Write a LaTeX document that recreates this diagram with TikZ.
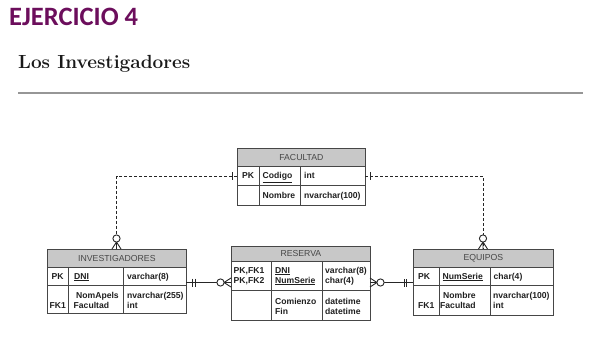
\documentclass[tikz,border=0pt]{standalone}
\usepackage{fontspec}
\newfontfamily\arialf{Liberation Sans}
\newfontfamily\calibf{Carlito}
\definecolor{titlec}{RGB}{108,14,92}
\definecolor{boxc}{RGB}{70,70,70}
\definecolor{hdrc}{RGB}{200,200,200}
\definecolor{rulec}{RGB}{150,150,150}
\begin{document}
\begin{tikzpicture}[x=1pt,y=-1pt,
  hdr/.style={draw=boxc, fill=hdrc, line width=0.8pt, anchor=north west, inner sep=0pt,
    font=\arialf\fontsize{8.7}{10}\selectfont, text=black!72},
  body/.style={draw=boxc, line width=0.8pt, anchor=north west, inner sep=0pt},
  div/.style={draw=boxc, line width=0.8pt},
  txt/.style={anchor=base west, inner sep=0pt, font=\arialf\bfseries\fontsize{8.6}{9}\selectfont, text=black!88},
  rel/.style={line width=0.9pt, draw=black!85},
  optrel/.style={rel, dash pattern=on 3pt off 2pt},
  mk/.style={line width=0.9pt, draw=black!85},
  zmany/.pic={\draw[mk] (7,0) -- (0,4.5) (7,0) -- (0,-4.5) (7,0) -- (0,0);
              \draw[mk, fill=white] (10.5,0) circle (3.6pt);},
  onebar/.pic={\draw[mk] (5,-3.8) -- (5,3.8);},
  twobar/.pic={\draw[mk] (6.5,-4) -- (6.5,4) (9,-4) -- (9,4);}
]
\useasboundingbox (0,0) rectangle (602,353);

% headings
\node[anchor=base west, inner sep=0pt, text=titlec, font=\calibf\bfseries\fontsize{26.5}{30}\selectfont] (title) at (9,26) {EJERCICIO 4};
\node[anchor=base west, inner sep=0pt, font=\bfseries\fontsize{19}{22}\selectfont, text=black!90] (sect) at (18,68.3) {Los Investigadores};
\draw[rulec, line width=1.2pt] (18,93) -- (583,93);

% FACULTAD
\node[hdr, minimum width=128pt, minimum height=18pt] (fach) at (237,148) {FACULTAD};
\node[body, minimum width=128pt, minimum height=39pt] (fac) at (237,166) {};
\draw[div] (237,185) -- (365,185) (259,166) -- (259,205) (300,166) -- (300,205);
\node[txt] (facpk) at (242,178.5) {PK};
\node[txt] (faccod) at (262.5,178.5) {\underline{Codigo}};
\node[txt] (faccodt) at (304,178.5) {int};
\node[txt] (facnom) at (262.5,198) {Nombre};
\node[txt] (facnomt) at (304,198) {nvarchar(100)};

% INVESTIGADORES
\node[hdr, minimum width=139pt, minimum height=18pt] (invh) at (47,249) {INVESTIGADORES};
\node[body, minimum width=139pt, minimum height=46pt] (inv) at (47,267) {};
\draw[div] (47,285) -- (186,285) (68,267) -- (68,313) (123,267) -- (123,313);
\node[txt] (invpk) at (51.5,279) {PK};
\node[txt] (invdni) at (74,279) {\underline{DNI}};
\node[txt] (invdnit) at (127,279) {varchar(8)};
\node[txt] (invnom) at (76,298.5) {NomApels};
\node[txt] (invnomt) at (127,298.5) {nvarchar(255)};
\node[txt] (invfk) at (49.5,308.5) {FK1};
\node[txt] (invfac) at (73.5,308.5) {Facultad};
\node[txt] (invfact) at (127,308.5) {int};

% RESERVA
\node[hdr, minimum width=139pt, minimum height=15pt] (resh) at (231,246) {RESERVA};
\node[body, minimum width=139pt, minimum height=59pt] (res) at (231,261) {};
\draw[div] (231,290) -- (370,290) (271,261) -- (271,320) (322,261) -- (322,320);
\node[txt] (respk1) at (233.5,273) {PK,FK1};
\node[txt] (respk2) at (233.5,283) {PK,FK2};
\node[txt] (resdni) at (275,273) {\underline{DNI}};
\node[txt] (resnum) at (275,283) {\underline{NumSerie}};
\node[txt] (resdnit) at (325,273) {varchar(8)};
\node[txt] (resnumt) at (325,283) {char(4)};
\node[txt] (rescom) at (275,304) {Comienzo};
\node[txt] (resfin) at (275,314) {Fin};
\node[txt] (rescomt) at (325,304) {datetime};
\node[txt] (resfint) at (325,314) {datetime};

% EQUIPOS
\node[hdr, minimum width=140pt, minimum height=18pt] (equh) at (413,249) {EQUIPOS};
\node[body, minimum width=140pt, minimum height=48pt] (equ) at (413,267) {};
\draw[div] (413,285) -- (553,285) (439,267) -- (439,315) (490,267) -- (490,315);
\node[txt] (equpk) at (418,279) {PK};
\node[txt] (equnum) at (442.5,279) {\underline{NumSerie}};
\node[txt] (equnumt) at (493.5,279) {char(4)};
\node[txt] (equnom) at (443,298.5) {Nombre};
\node[txt] (equnomt) at (493,298.5) {nvarchar(100)};
\node[txt] (equfk) at (418,308.5) {FK1};
\node[txt] (equfac) at (440,308.5) {Facultad};
\node[txt] (equfact) at (493,308.5) {int};

% attachment points
\coordinate (facL) at (237,176);
\coordinate (facR) at (365,176);
\coordinate (invT) at (116.5,249);
\coordinate (equT) at (483,249);
\coordinate (invR) at (186,282.5);
\coordinate (resL) at (231,282.5);
\coordinate (resR) at (370,282.5);
\coordinate (equL) at (413,282.5);

% relationships
\draw[optrel] (facL) -| (invT);
\draw[optrel] (facR) -| (equT);
\draw[rel] (invR) -- (resL);
\draw[rel] (resR) -- (equL);

% cardinality marks
\pic[rotate=180] at (facL) {onebar};
\pic at (facR) {onebar};
\pic[rotate=90] at (invT) {zmany};
\pic[rotate=90] at (equT) {zmany};
\pic at (invR) {twobar};
\pic[rotate=180] at (resL) {zmany};
\pic at (resR) {zmany};
\pic[rotate=180] at (equL) {twobar};
\end{tikzpicture}
\end{document}
